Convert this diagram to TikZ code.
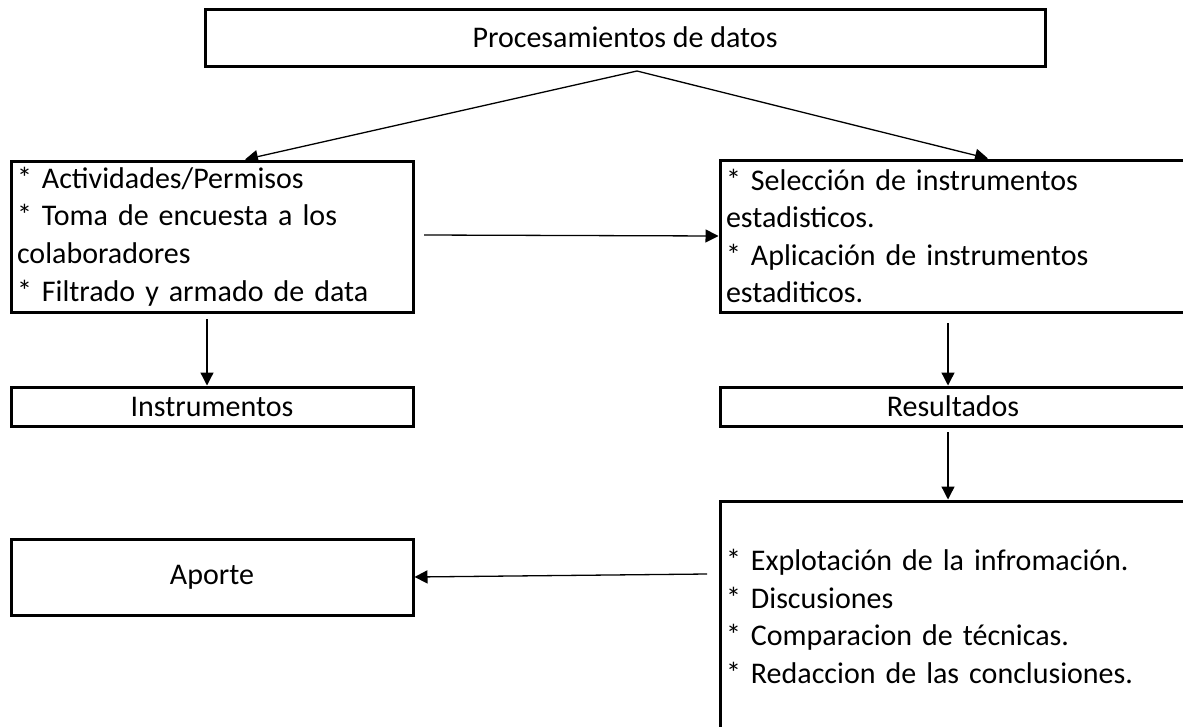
\documentclass[tikz,border=0pt]{standalone}
\usepackage{fontspec}
\setmainfont{Carlito}
\usetikzlibrary{arrows.meta}
\begin{document}
\begin{tikzpicture}[x=1pt,y=-1pt,
  box/.style={draw=black,line width=3pt,rectangle,inner sep=0pt,font=\fontsize{30}{37.6}\selectfont},
  lbox/.style={box,align=left,inner xsep=6pt},
  arr/.style={draw=black,line width=1.3pt,-{Triangle[length=13pt,width=13pt]}}]
\useasboundingbox (0,0) rectangle (1183,726);
\clip (0,0) rectangle (1183,726);
\fill[white] (0,0) rectangle (1183,726);
\node[box,minimum width=840pt,minimum height=57pt] (top) at (625,37.5) {Procesamientos de datos};
\node[lbox,text width=390pt,minimum height=151pt] (L) at (212,236.5) {* Actividades/Permisos\\{}* Toma de encuesta a los\\colaboradores\\{}* Filtrado y armado de data};
\node[lbox,text width=454pt,minimum height=152pt] (R) at (953,236) {* Selección de instrumentos\\estadisticos.\\{}* Aplicación de instrumentos\\estaditicos.};
\node[box,minimum width=402pt,minimum height=39pt] (I) at (212,406.5) {Instrumentos};
\node[box,minimum width=466pt,minimum height=39pt] (Res) at (953,406.5) {Resultados};
\node[box,minimum width=402pt,minimum height=76pt] (Ap) at (212,577) {Aporte};
\node[lbox,text width=454pt,minimum height=231pt] (F) at (953,616.5) {* Explotación de la infromación.\\{}* Discusiones\\{}* Comparacion de técnicas.\\{}* Redaccion de las conclusiones.};
\coordinate (apex) at (637,71);
\coordinate (hs) at (424,235);
\coordinate (ld) at (207,319);
\coordinate (rd) at (948,323);
\coordinate (rd2) at (948,432);
\coordinate (fs) at (707,574);
\draw[arr] (apex) -- ([xshift=33pt]L.north);
\draw[arr] (apex) -- ([xshift=35pt]R.north);
\draw[arr] (hs) -- (R.west);
\draw[arr] (ld) -- ([xshift=-5pt]I.north);
\draw[arr] (rd) -- ([xshift=-5pt]Res.north);
\draw[arr] (rd2) -- ([xshift=-5pt]F.north);
\draw[arr] (fs) -- (Ap.east);
\end{tikzpicture}
\end{document}
